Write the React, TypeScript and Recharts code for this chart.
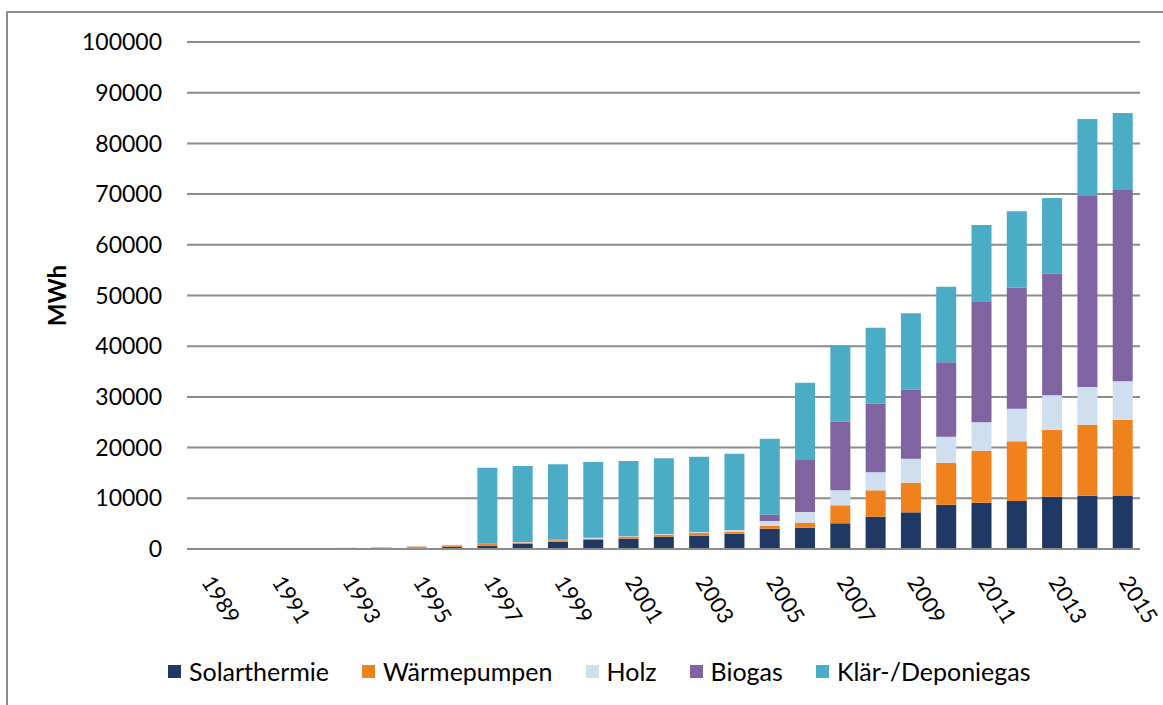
import React from 'react'
import {
	BarChart,
	Bar,
	XAxis,
	YAxis,
	CartesianGrid,
	Legend
} from 'recharts'

document.body.style.margin = '0'

const years = [
	'1989', '1990', '1991', '1992', '1993', '1994', '1995', '1996', '1997',
	'1998', '1999', '2000', '2001', '2002', '2003', '2004', '2005', '2006',
	'2007', '2008', '2009', '2010', '2011', '2012', '2013', '2014', '2015'
]

const solarthermie = [
	0, 0, 0, 40, 80, 120, 250, 450, 650, 1050, 1440, 1770, 2040, 2430, 2630,
	3020, 4000, 4200, 5070, 6370, 7230, 8740, 9140, 9470, 10320, 10520, 10550
]
const waermepumpen = [
	0, 0, 0, 100, 150, 200, 250, 300, 350, 250, 300, 270, 390, 390, 520, 400,
	600, 1000, 3550, 5200, 5850, 8280, 10260, 11770, 13220, 14000, 14960
]
const holz = [
	0, 0, 0, 30, 50, 80, 30, 80, 50, 80, 100, 190, 100, 140, 200, 330, 920,
	2100, 2960, 3550, 4740, 5130, 5590, 6440, 6770, 7430, 7560
]
const biogas = [
	0, 0, 0, 0, 0, 0, 0, 0, 0, 0, 0, 0, 0, 0, 0, 0, 1250, 10400, 13520,
	13530, 13600, 14670, 23860, 23860, 23990, 37810, 37880
]
const klaergas = [
	0, 0, 0, 0, 0, 0, 0, 0, 15000, 14990, 14860, 14930, 14830, 14920, 14860,
	15050, 14990, 15100, 15080, 14990, 15070, 14920, 15050, 15060, 14930,
	15050, 15050
]

const yTicks = [0, 10000, 20000, 30000, 40000, 50000, 60000, 70000, 80000, 90000, 100000]

const series = [
	{ key: 'solar', name: 'Solarthermie', color: '#203864' },
	{ key: 'waerme', name: 'Wärmepumpen', color: '#F0821E' },
	{ key: 'holz', name: 'Holz', color: '#CFDFEF' },
	{ key: 'biogas', name: 'Biogas', color: '#8064A2' },
	{ key: 'klaer', name: 'Klär-/Deponiegas', color: '#4BACC6' }
]

const data = years.map((year, i) => ({
	year,
	solar: solarthermie[i],
	waerme: waermepumpen[i],
	holz: holz[i],
	biogas: biogas[i],
	klaer: klaergas[i]
}))

const FONT = 'Lato, "Open Sans", sans-serif'

function YearTick({ x, y, payload }: any) {
	return (
		<g transform={`translate(${x - 4},${y + 33})`}>
			<text
				transform='rotate(58)'
				textAnchor='start'
				fontFamily={FONT}
				fontSize={22}
				fill='#000'
			>
				{payload.value}
			</text>
		</g>
	)
}

function renderLegend() {
	return (
		<div
			style={{
				display: 'flex',
				paddingLeft: 168,
				fontFamily: FONT,
				fontSize: 25,
				color: '#000',
				alignItems: 'center'
			}}
		>
			{series.map(s => (
				<div
					key={s.key}
					style={{ display: 'flex', alignItems: 'center', marginRight: 33 }}
				>
					<span
						style={{
							width: 13,
							height: 13,
							background: s.color,
							marginRight: 8,
							display: 'inline-block'
						}}
					/>
					<span>{s.name}</span>
				</div>
			))}
		</div>
	)
}

function App() {
	return (
		<div style={{ position: 'relative', width: 1163, height: 705, overflow: 'hidden' }}>
			<div
				style={{
					position: 'absolute',
					left: 6,
					top: 11,
					width: 1300,
					height: 900,
					borderTop: '2px solid #8c8c8c',
					borderLeft: '2px solid #8c8c8c'
				}}
			/>
			<BarChart
				width={1163}
				height={705}
				data={data}
				margin={{ top: 42, right: 23, left: 0, bottom: 0 }}
				barSize={20}
			>
				<CartesianGrid vertical={false} stroke='#8c8c8c' strokeWidth={2} />
				<XAxis
					dataKey='year'
					interval={1}
					height={156}
					tickLine={false}
					tickSize={0}
					tickMargin={0}
					stroke='#8c8c8c'
					strokeWidth={2}
					tick={<YearTick />}
				/>
				<YAxis
					width={187}
					domain={[0, 100000]}
					ticks={yTicks}
					axisLine={false}
					tickLine={false}
					tickSize={0}
					tickMargin={25}
					tick={{ fontFamily: FONT, fontSize: 23, fill: '#000' }}
					label={{
						value: 'MWh',
						angle: -90,
						position: 'insideLeft',
						offset: 57,
						style: { fontFamily: FONT, fontSize: 24, fontWeight: 'bold', fill: '#000', textAnchor: 'middle' }
					}}
				/>
				<Legend
					layout='horizontal'
					verticalAlign='middle'
					align='center'
					wrapperStyle={{ top: 656, left: 0, width: 1163 }}
					content={renderLegend}
				/>
				{series.map(s => (
					<Bar
						key={s.key}
						dataKey={s.key}
						name={s.name}
						stackId='a'
						fill={s.color}
						isAnimationActive={false}
					/>
				))}
			</BarChart>
		</div>
	)
}

export default App
